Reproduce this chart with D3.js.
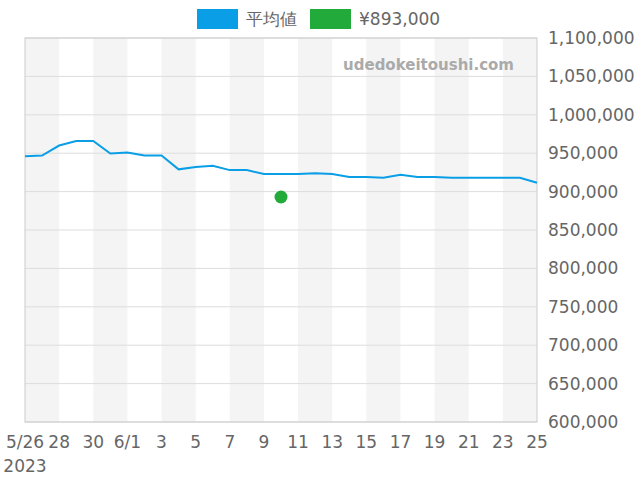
<!DOCTYPE html>
<html><head><meta charset="utf-8">
<script src="https://cdn.jsdelivr.net/npm/d3@7"></script>
<style>body{margin:0;background:#fff;font-family:"DejaVu Sans",sans-serif}</style>
</head><body><div id="chart"></div>
<script>
var startDate = new Date(2023, 4, 26)
var avgValues = [946000, 947000, 960000, 966000, 966000, 949500, 951000, 947000, 947000, 929000,
    932000, 933500, 928000, 928000, 923000, 923000, 923000, 924000, 923000, 919000,
    919000, 918000, 922000, 919000, 919000, 918000, 918000, 918000, 918000, 918000, 911500]
var priceDate = new Date(2023, 5, 10)
var priceValue = 893000
var yTicks = d3.range(600000, 1100001, 50000)
var tickLabels = ['5/26', '28', '30', '6/1', '3', '5', '7', '9', '11', '13', '15', '17', '19', '21', '23', '25']

var dates = avgValues.map((v, i) => d3.timeDay.offset(startDate, i))

var svg = d3.select('#chart').append('svg').attr('width', 640).attr('height', 480)
var pLeft = 25, pRight = 537, pTop = 38, pBottom = 422

var x = d3.scaleTime().domain([startDate, dates[dates.length - 1]]).range([pLeft, pRight])
var y = d3.scaleLinear().domain([600000, 1100000]).range([pBottom, pTop])

// shaded bands, 2 days each
for (var i = 0; i < 30; i += 4) {
    svg.append('rect')
        .attr('x', x(d3.timeDay.offset(startDate, i)))
        .attr('y', pTop)
        .attr('width', x(d3.timeDay.offset(startDate, i + 2)) - x(d3.timeDay.offset(startDate, i)))
        .attr('height', pBottom - pTop)
        .attr('fill', '#f4f4f4')
}

svg.selectAll('.grid').data(yTicks).enter().append('line')
    .attr('x1', pLeft).attr('x2', pRight)
    .attr('y1', d => y(d)).attr('y2', d => y(d))
    .attr('stroke', '#dddddd')

svg.append('rect').attr('x', pLeft).attr('y', pTop).attr('width', pRight - pLeft).attr('height', pBottom - pTop)
    .attr('fill', 'none').attr('stroke', '#cccccc')

svg.append('text').attr('x', 514).attr('y', 70).attr('text-anchor', 'end')
    .attr('font-size', 15).attr('font-weight', 'bold').attr('fill', '#aaaaaa')
    .text('udedokeitoushi.com')

svg.append('path').datum(avgValues)
    .attr('fill', 'none').attr('stroke', '#0a9ee6').attr('stroke-width', 2)
    .attr('d', d3.line().x((d, i) => x(dates[i])).y(d => y(d)))

svg.append('circle').attr('cx', x(priceDate)).attr('cy', y(priceValue)).attr('r', 6.5).attr('fill', '#22aa3a')

svg.selectAll('.yl').data(yTicks).enter().append('text')
    .attr('x', 548).attr('y', d => y(d) + 6)
    .attr('font-size', 17).attr('fill', '#666')
    .text(d => d3.format(',')(d))

svg.selectAll('.xl').data(tickLabels).enter().append('text')
    .attr('x', (d, i) => x(d3.timeDay.offset(startDate, i * 2)))
    .attr('y', 448).attr('text-anchor', 'middle')
    .attr('font-size', 17).attr('fill', '#666')
    .text(d => d)
svg.append('text').attr('x', 25).attr('y', 472).attr('text-anchor', 'middle')
    .attr('font-size', 17).attr('fill', '#666').text('2023')

// legend
svg.append('rect').attr('x', 197).attr('y', 9).attr('width', 41).attr('height', 20).attr('fill', '#0a9ee6')
svg.append('text').attr('x', 246).attr('y', 25).attr('font-size', 17).attr('fill', '#666').text('平均値')
svg.append('rect').attr('x', 310).attr('y', 9).attr('width', 41).attr('height', 20).attr('fill', '#22aa3a')
svg.append('text').attr('x', 359).attr('y', 25).attr('font-size', 17).attr('fill', '#666').text('¥893,000')
</script></body></html>
